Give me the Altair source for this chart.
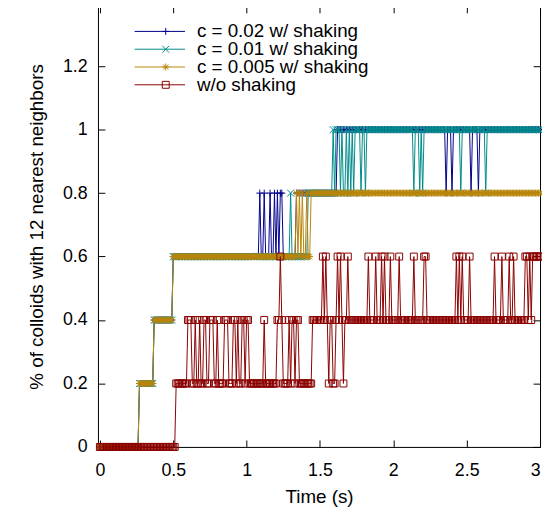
import altair as alt
import numpy as np
import pandas as pd

# ---------------- data ----------------
series_names = ["c = 0.02 w/ shaking", "c = 0.01 w/ shaking",
                "c = 0.005 w/ shaking", "w/o shaking"]
series_colors = ["#00008b", "#008b8b", "#b8860b", "#8b0000"]
series_markers = [
    "M-1,0L1,0M0,-1L0,1",
    "M-1,-1L1,1M-1,1L1,-1",
    "M-1,0L1,0M0,-1L0,1M-0.75,-0.75L0.75,0.75M-0.75,0.75L0.75,-0.75",
    "M-1,-1L1,-1L1,1L-1,1Z",
]

sample_dt = 0.01      # s between samples
sample_count = 301    # 0 .. 3 s

# each series as change points: time (s) at which the value switches, new value
blue_t = [0.00, 0.27, 0.37, 0.50, 1.09, 1.10, 1.12, 1.13, 1.16, 1.17, 1.19, 1.20,
          1.21, 1.22, 1.23, 1.25, 1.34, 1.62, 2.36, 2.37, 2.40, 2.41, 2.53, 2.54,
          2.58, 2.59]
blue_v = [0.0, 0.2, 0.4, 0.6, 0.8, 0.6, 0.8, 0.6, 0.8, 0.6, 0.8, 0.6,
          0.8, 0.6, 0.8, 0.6, 0.8, 1.0, 0.8, 1.0, 0.8, 1.0, 0.8, 1.0,
          0.8, 1.0]

teal_t = [0.00, 0.27, 0.37, 0.50, 1.30, 1.31, 1.42, 1.59, 1.60, 1.61, 1.64, 1.65,
          1.66, 1.68, 1.69, 1.70, 1.71, 1.72, 1.73, 1.74, 1.78, 1.79, 1.81, 1.82,
          2.14, 2.15, 2.18, 2.19, 2.20, 2.21, 2.46, 2.47, 2.63, 2.64]
teal_v = [0.0, 0.2, 0.4, 0.6, 0.8, 0.6, 0.8, 1.0, 0.8, 1.0, 0.8, 1.0,
          0.8, 1.0, 0.8, 1.0, 0.8, 1.0, 0.8, 1.0, 0.8, 1.0, 0.8, 1.0,
          0.8, 1.0, 0.8, 1.0, 0.8, 1.0, 0.8, 1.0, 0.8, 1.0]

gold_t = [0.00, 0.27, 0.37, 0.50, 1.34, 1.35, 1.36, 1.37, 1.38, 1.39, 1.41, 1.42, 1.44]
gold_v = [0.0, 0.2, 0.4, 0.6, 0.8, 0.6, 0.8, 0.6, 0.8, 0.6, 0.8, 0.6, 0.8]

red_t = [0.00, 0.52,
         0.60, 0.63, 0.65, 0.66, 0.68, 0.69, 0.71, 0.73, 0.75, 0.78, 0.80, 0.81,
         0.85, 0.88, 0.91, 0.93, 0.94, 0.95, 0.97, 0.99, 1.00, 1.02,
         1.12, 1.13,
         1.21, 1.23, 1.24, 1.25, 1.29, 1.30, 1.31, 1.33, 1.34, 1.36,
         1.45, 1.52, 1.53, 1.54, 1.55, 1.56, 1.57, 1.59, 1.61, 1.62, 1.63,
         1.64, 1.65, 1.66, 1.67, 1.69, 1.70,
         1.83, 1.84, 1.88, 1.89, 1.92, 1.93, 1.94, 1.95, 1.98, 1.99, 2.04, 2.05,
         2.14, 2.15, 2.21, 2.23, 2.43, 2.44, 2.45, 2.46, 2.47, 2.48, 2.52, 2.53,
         2.69, 2.70, 2.74, 2.75, 2.79, 2.80, 2.82, 2.83, 2.90, 2.92, 2.93, 2.94,
         2.95]
red_v = [0.0, 0.2,
         0.4, 0.2, 0.4, 0.2, 0.4, 0.2, 0.4, 0.2, 0.4, 0.2, 0.4, 0.2,
         0.4, 0.2, 0.4, 0.2, 0.4, 0.2, 0.4, 0.2, 0.4, 0.2,
         0.4, 0.2,
         0.4, 0.6, 0.4, 0.2, 0.4, 0.2, 0.4, 0.2, 0.4, 0.2,
         0.4, 0.6, 0.4, 0.6, 0.4, 0.2, 0.4, 0.2, 0.4, 0.6, 0.4,
         0.6, 0.4, 0.2, 0.4, 0.6, 0.4,
         0.6, 0.4, 0.6, 0.4, 0.6, 0.4, 0.6, 0.4, 0.6, 0.4, 0.6, 0.4,
         0.6, 0.4, 0.6, 0.4, 0.6, 0.4, 0.6, 0.4, 0.6, 0.4, 0.6, 0.4,
         0.6, 0.4, 0.6, 0.4, 0.6, 0.4, 0.6, 0.4, 0.6, 0.4, 0.6, 0.4,
         0.6]

x_ticks = [0, 0.5, 1, 1.5, 2, 2.5, 3]
y_ticks = [0, 0.2, 0.4, 0.6, 0.8, 1, 1.2]

# ---------------- build table ----------------
change_lists = [(blue_t, blue_v), (teal_t, teal_v), (gold_t, gold_v), (red_t, red_v)]
sample_idx = np.arange(sample_count)
rows = []
for name, (ct, cv) in zip(series_names, change_lists):
    ci = np.round(np.array(ct) / sample_dt).astype(int)
    pos = np.searchsorted(ci, sample_idx, side="right") - 1
    vals = np.array(cv)[pos]
    for i, v in zip(sample_idx, vals):
        rows.append({"t": round(i * sample_dt, 2), "v": float(v),
                     "series": name, "series_b": name})
df = pd.DataFrame(rows)

FONT = "Liberation Sans"
FS = 18
TFS = 19
LFS = 19

xs = alt.Scale(domain=[-0.013, 3.0], nice=False, zero=False)
ys = alt.Scale(domain=[0, 1.39], nice=False, zero=False)

x_main = alt.Axis(orient="bottom", values=x_ticks, format="~g", ticks=False,
                  domain=True, domainColor="black", domainWidth=1,
                  grid=False, labelFont=FONT, labelFontSize=FS, labelColor="black",
                  labelPadding=15, title="Time (s)", titleFont=FONT, titleFontSize=TFS,
                  titleFontWeight="normal", titleColor="black", titlePadding=8)
y_main = alt.Axis(orient="left", values=y_ticks, format="~g", ticks=False,
                  domain=True, domainColor="black", domainWidth=1,
                  grid=False, labelFont=FONT, labelFontSize=FS, labelColor="black",
                  labelPadding=11, title="% of colloids with 12 nearest neighbors",
                  titleFont=FONT, titleFontSize=TFS, titleFontWeight="normal",
                  titleColor="black", titlePadding=16)


def tick_axis(orient, vals):
    return alt.Axis(orient=orient, values=vals, labels=False, domain=False, grid=False,
                    ticks=True, tickSize=7, tickColor="black", tickWidth=1,
                    offset=-7, title=None)


def frame_axis(orient, vals):
    return alt.Axis(orient=orient, values=vals, labels=False, ticks=False, grid=False,
                    domain=True, domainColor="black", domainWidth=1, title=None)


# line legend: data-derived (sorted) domain; marker legend: explicit domain,
# so the two legends stay separate and are overlaid
stroke_scale = alt.Scale(range=series_colors)
color_scale = alt.Scale(domain=series_names, range=series_colors)
shape_scale = alt.Scale(domain=series_names, range=series_markers)

ROWPAD = -3.5
LEG_Y = 17.8
line_legend = alt.Legend(orient="none", legendX=36.5, legendY=LEG_Y, title=None,
                         symbolType="stroke", symbolSize=2601, symbolStrokeWidth=1,
                         clipHeight=16, rowPadding=ROWPAD, padding=0, labelOffset=11.5,
                         labelFont=FONT, labelFontSize=LFS, labelColor="black",
                         labelLimit=400)
marker_legend = alt.Legend(orient="none", legendX=59, legendY=LEG_Y, title=None,
                           symbolSize=49, symbolStrokeWidth=1, clipHeight=16,
                           rowPadding=ROWPAD, padding=0, labelOpacity=0,
                           labelFont=FONT, labelFontSize=LFS, labelLimit=400)

layers = []
for k, name in enumerate(series_names):
    base = alt.Chart(df).transform_filter(alt.datum.series == name)
    if k == 0:
        lx, ly = x_main, y_main
        px, py = tick_axis("bottom", x_ticks), tick_axis("left", y_ticks)
    elif k == 1:
        lx, ly = tick_axis("top", x_ticks), tick_axis("right", y_ticks)
        px, py = frame_axis("top", x_ticks), frame_axis("right", y_ticks)
    else:
        lx, ly, px, py = None, None, None, None
    line = base.mark_line(strokeWidth=1).encode(
        x=alt.X("t:Q", scale=xs, axis=lx),
        y=alt.Y("v:Q", scale=ys, axis=ly),
        stroke=alt.Stroke("series:N", sort=series_names, scale=stroke_scale,
                          legend=line_legend),
    )
    pts = base.mark_point(filled=False, strokeWidth=1, size=49, opacity=1).encode(
        x=alt.X("t:Q", scale=xs, axis=px),
        y=alt.Y("v:Q", scale=ys, axis=py),
        color=alt.Color("series_b:N", scale=color_scale, legend=marker_legend),
        shape=alt.Shape("series_b:N", scale=shape_scale, legend=marker_legend),
    )
    layers += [line, pts]

chart = alt.layer(*layers).resolve_axis(x="independent", y="independent").properties(
    width=447, height=446,
    autosize=alt.AutoSizeParams(type="none"),
    padding={"left": 91, "top": -5, "right": 2, "bottom": 70},
).configure_view(stroke=None).configure(background="white")

chart.save("out.html", embed_options={"renderer": "svg", "actions": False})
